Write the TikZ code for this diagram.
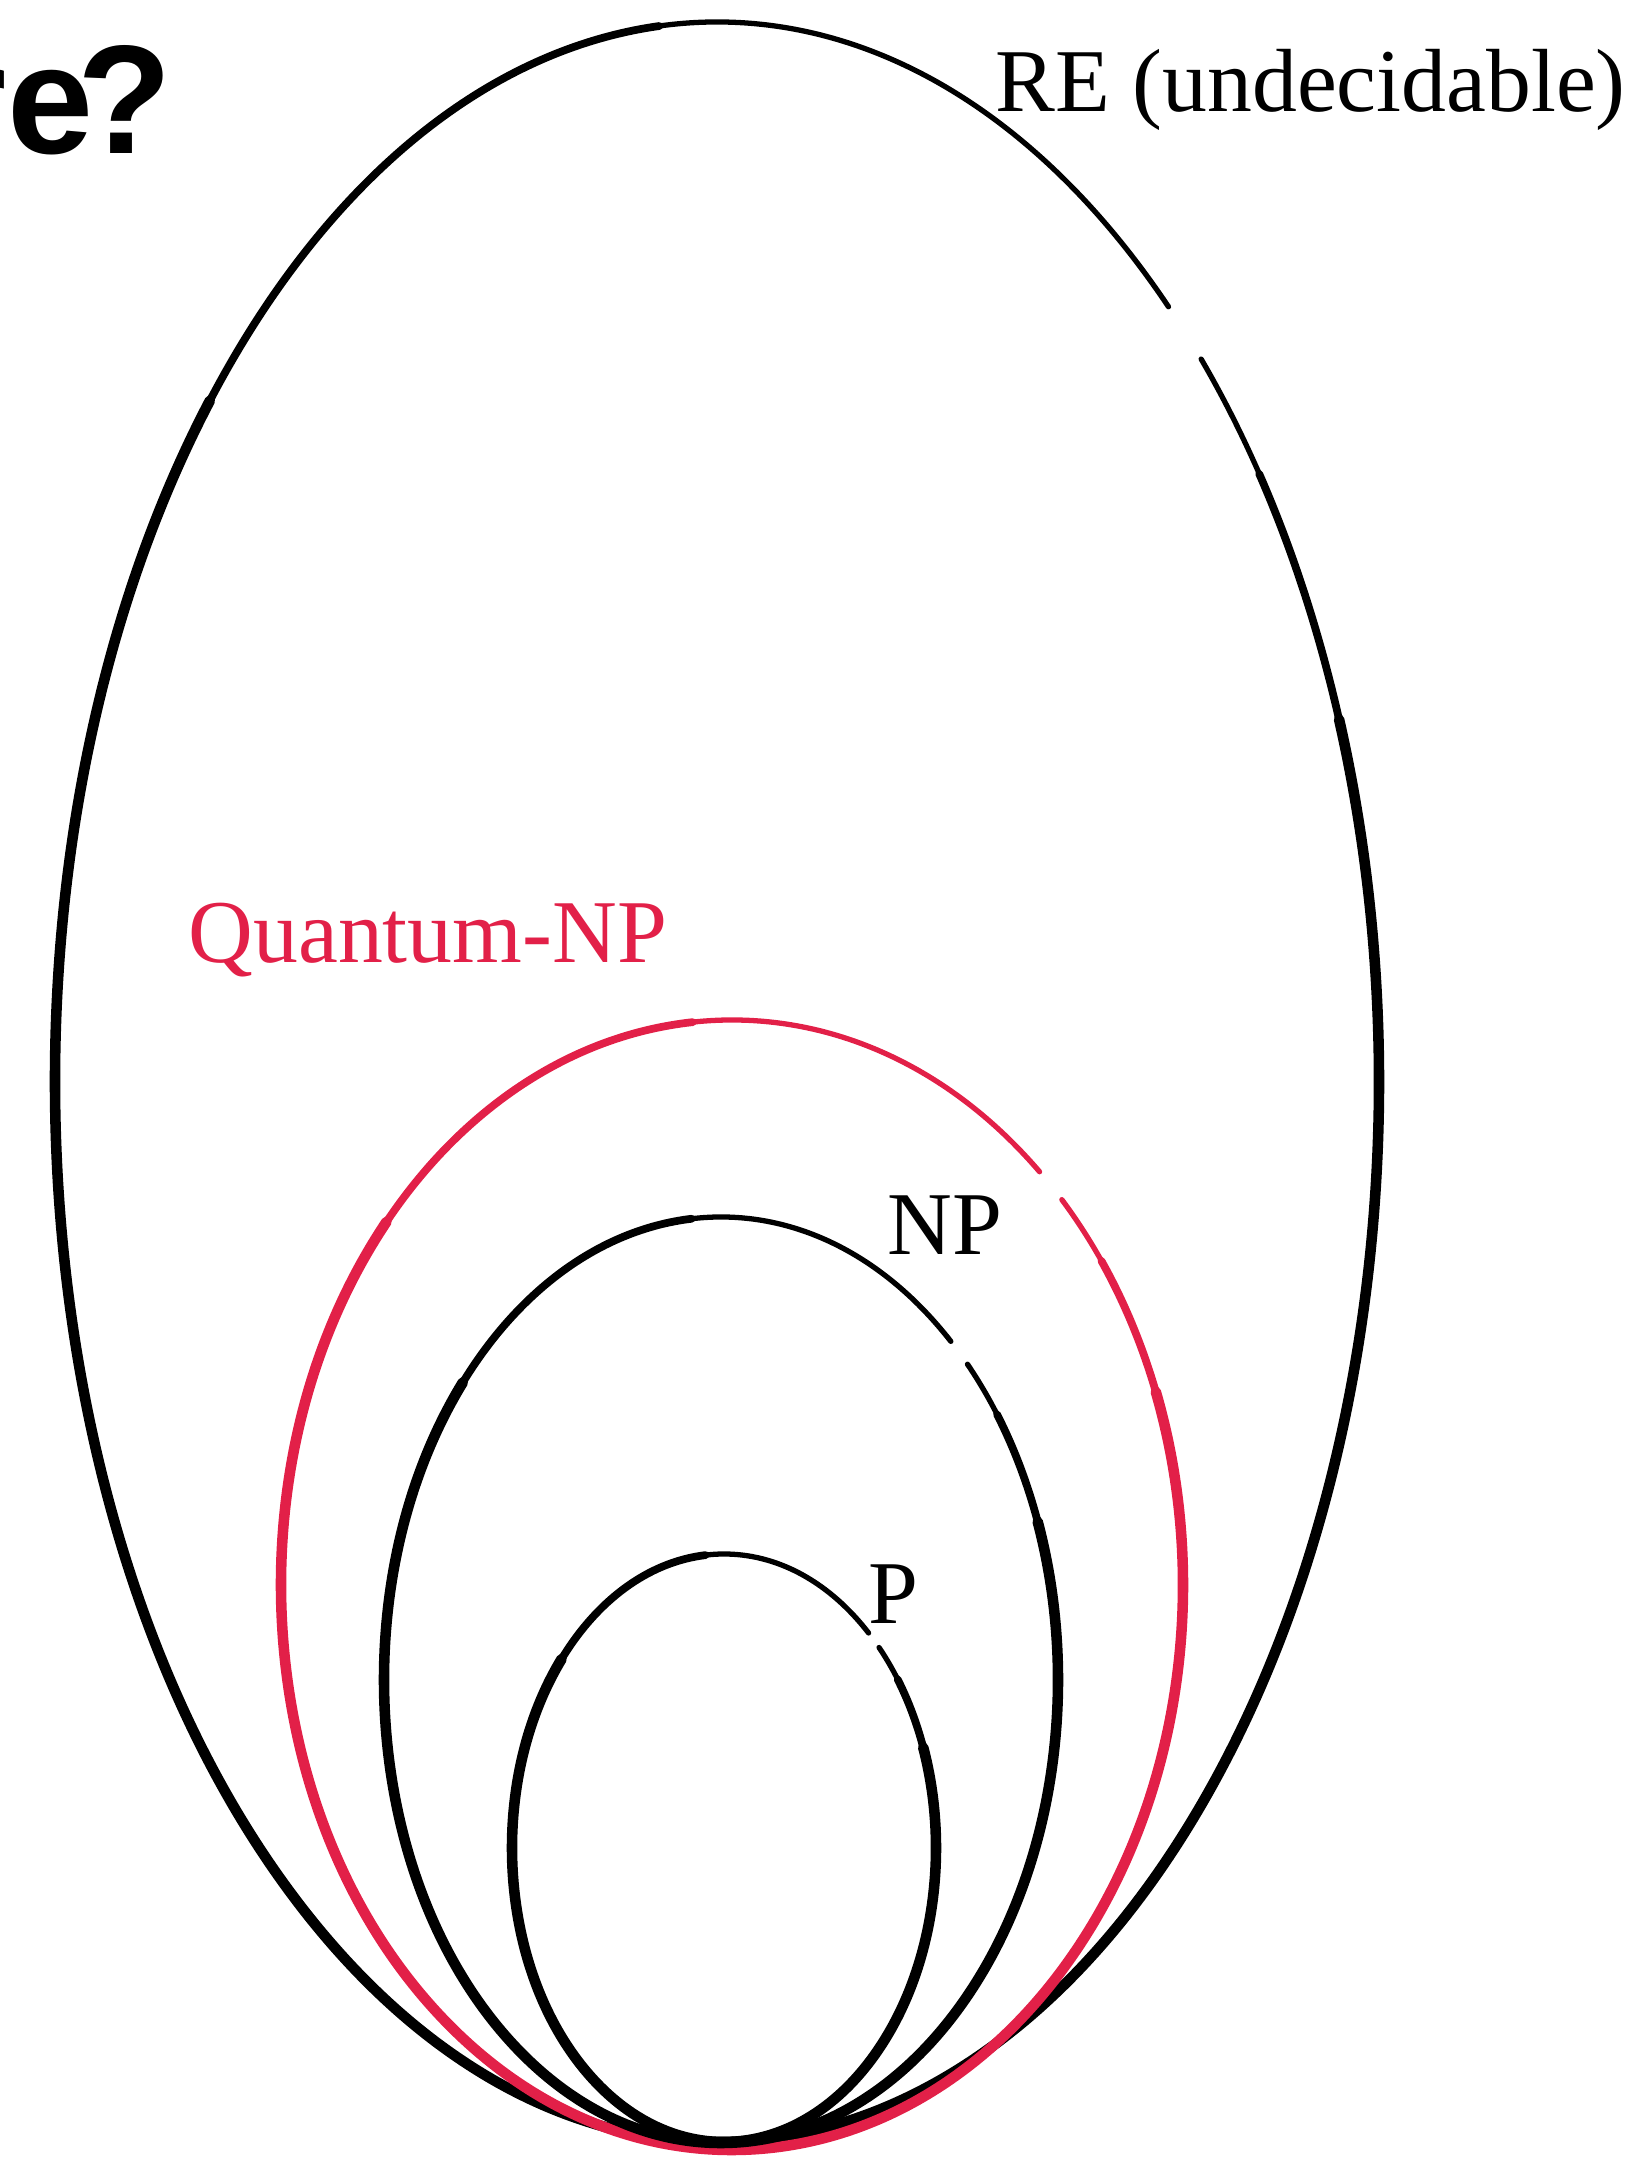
\documentclass[tikz,border=0pt]{standalone}
\usepackage{fontspec}
\setmainfont{Liberation Serif}
\newfontfamily\headfont{Liberation Sans}
\usepackage{xcolor}
\usepackage{tikz}
\usetikzlibrary{positioning}
\definecolor{qred}{RGB}{226,32,72}

\begin{document}
\begin{tikzpicture}[x=0.01cm,y=0.01cm,
    brush/.style={line width=1.5pt,line cap=round},
    midbrush/.style={line width=2.2pt,line cap=round},
    heavybrush/.style={line width=3pt,line cap=round},
    setlabel/.style={font=\fontsize{25.5}{30}\selectfont,inner sep=0pt,anchor=base west}]
        \clip (0,0) rectangle (1629,2157);

        % Centres of the classes (all touch at the bottom)
        \coordinate (cRE) at (717,1075);  % RE
        \coordinate (cQ)  at (732,572);   % Quantum-NP
        \coordinate (cNP) at (721,477);   % NP
        \coordinate (cP)  at (724,309);   % P

        % Title fragment
        \node[font=\headfont\bfseries\fontsize{44}{48}\selectfont,inner sep=0pt,anchor=base east]
          (title) at (173,2003) {re\kern-0.1em?};

        % RE
        \draw[brush] (cRE) ++(47:662 and 1060)
          arc[start angle=47,end angle=403,x radius=662,y radius=1060];
        \draw[midbrush] (cRE) ++(95:662 and 1060)
          arc[start angle=95,end angle=395,x radius=662,y radius=1060];
        \draw[heavybrush] (cRE) ++(140:662 and 1060)
          arc[start angle=140,end angle=380,x radius=662,y radius=1060];

        % Quantum-NP
        \draw[brush,qred] (cQ) ++(47:451 and 565)
          arc[start angle=47,end angle=403,x radius=451,y radius=565];
        \draw[midbrush,qred] (cQ) ++(95:451 and 565)
          arc[start angle=95,end angle=395,x radius=451,y radius=565];
        \draw[heavybrush,qred] (cQ) ++(140:451 and 565)
          arc[start angle=140,end angle=380,x radius=451,y radius=565];

        % NP
        \draw[brush] (cNP) ++(47:337 and 463)
          arc[start angle=47,end angle=403,x radius=337,y radius=463];
        \draw[midbrush] (cNP) ++(95:337 and 463)
          arc[start angle=95,end angle=395,x radius=337,y radius=463];
        \draw[heavybrush] (cNP) ++(140:337 and 463)
          arc[start angle=140,end angle=380,x radius=337,y radius=463];

        % P
        \draw[brush] (cP) ++(47:212 and 294)
          arc[start angle=47,end angle=403,x radius=212,y radius=294];
        \draw[midbrush] (cP) ++(95:212 and 294)
          arc[start angle=95,end angle=395,x radius=212,y radius=294];
        \draw[heavybrush] (cP) ++(140:212 and 294)
          arc[start angle=140,end angle=380,x radius=212,y radius=294];

        % Labels
        \node[setlabel] (relabel) at (995,2045) {RE (undecidable)};
        \node[setlabel,qred] (qlabel) at (188,1194) {Quantum-NP};
        \node[setlabel] (nplabel) at (887,902) {NP};
        \node[setlabel] (plabel) at (868,533) {P};
      \end{tikzpicture}
\end{document}
